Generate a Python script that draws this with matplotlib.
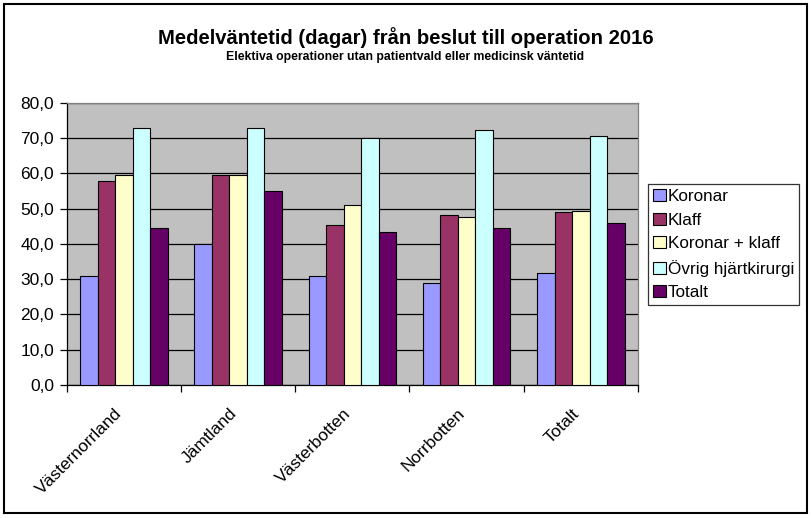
import numpy as np
import matplotlib
matplotlib.use('Agg')
import matplotlib.pyplot as plt
from matplotlib.ticker import FuncFormatter, FixedLocator
from matplotlib.patches import Rectangle

# Data
regions = ['Västernorrland', 'Jämtland', 'Västerbotten', 'Norrbotten', 'Totalt']
series_names = ['Koronar', 'Klaff', 'Koronar + klaff', 'Övrig hjärtkirurgi', 'Totalt']
koronar = [30.8, 40.0, 30.8, 28.9, 31.7]
klaff = [57.8, 59.5, 45.3, 48.2, 49.0]
koronar_klaff = [59.5, 59.5, 51.0, 47.6, 49.4]
ovrig = [72.8, 72.8, 70.0, 72.3, 70.6]
totalt = [44.4, 55.1, 43.4, 44.5, 45.9]
colors = ['#9999FF', '#993366', '#FFFFCC', '#CCFFFF', '#660066']

plt.rcParams['font.family'] = ['Liberation Sans', 'DejaVu Sans']

fig = plt.figure(figsize=(8.11, 5.18), dpi=100)
ax = fig.add_axes([0.0822, 0.2568, 0.7045, 0.5444])
ax.set_facecolor('#C0C0C0')

x = np.arange(len(regions))
w = 0.153
all_series = [koronar, klaff, koronar_klaff, ovrig, totalt]
for i, (vals, name, c) in enumerate(zip(all_series, series_names, colors)):
    ax.bar(x + (i - 2) * w, vals, width=w, color=c, edgecolor='black',
           linewidth=0.8, label=name, zorder=3)

ax.set_xlim(-0.5, len(regions) - 0.5)
ax.set_ylim(0, 80)
ax.set_yticks(np.arange(0, 81, 10))
ax.yaxis.set_major_formatter(FuncFormatter(lambda v, p: f'{v:.1f}'.replace('.', ',')))
ax.grid(axis='y', color='black', linewidth=0.9, zorder=1)
ax.set_axisbelow(True)

# label anchors sit a bit left of the category centre, as in the original
ax.set_xticks(x - 0.08)
ax.set_xticklabels(regions, rotation=45, ha='right', rotation_mode='anchor', fontsize=12.5)
ax.xaxis.set_minor_locator(FixedLocator(np.arange(-0.5, len(regions), 1)))
ax.tick_params(axis='x', which='major', length=0, pad=15)
ax.tick_params(axis='x', which='minor', length=5, direction='out', width=0.9)
ax.tick_params(axis='y', length=5, direction='out', width=0.9, labelsize=12.5, pad=4)

for s in ['left', 'bottom']:
    ax.spines[s].set_color('black')
    ax.spines[s].set_linewidth(0.9)
for s in ['top', 'right']:
    ax.spines[s].set_color('#808080')
    ax.spines[s].set_linewidth(0.9)

leg = ax.legend(loc='upper left', bbox_to_anchor=(648 / 811, 1 - 184 / 518),
                bbox_transform=fig.transFigure, fontsize=12.3, frameon=True,
                fancybox=False, edgecolor='black', handlelength=0.75,
                handleheight=0.7, handletextpad=0.12, borderpad=0.3,
                labelspacing=0.5, borderaxespad=0)
leg.get_frame().set_linewidth(0.9)

fig.text(0.5, 1 - 38 / 518, 'Medelväntetid (dagar) från beslut till operation 2016',
         ha='center', va='center', fontsize=14.6, fontweight='bold')
fig.text(0.5, 1 - 57 / 518, 'Elektiva operationer utan patientvald eller medicinsk väntetid',
         ha='center', va='center', fontsize=8.8, fontweight='bold')

fig.patches.append(Rectangle((4 / 811, 1 - 513 / 518), 803 / 811, 509 / 518,
                             transform=fig.transFigure, fill=False,
                             edgecolor='black', linewidth=1.5))

fig.savefig('out.png', dpi=100)
